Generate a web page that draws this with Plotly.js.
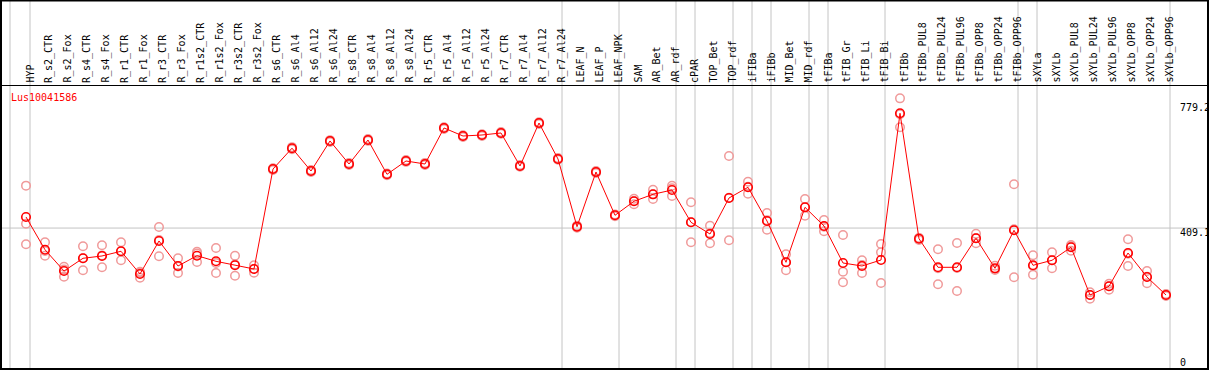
<!DOCTYPE html>
<html>
<head>
<meta charset="utf-8">
<script src="https://cdn.plot.ly/plotly-3.0.1.min.js"></script>
<style>html,body{margin:0;padding:0;background:#fff;}#chart{width:1209px;height:370px;}</style>
</head>
<body>
<div id="chart"></div>
<script>
const categories = ["HYP","R_s2_CTR","R_s2_Fox","R_s4_CTR","R_s4_Fox","R_r1_CTR","R_r1_Fox","R_r3_CTR","R_r3_Fox","R_r1s2_CTR","R_r1s2_Fox","R_r3s2_CTR","R_r3s2_Fox","R_s6_CTR","R_s6_Al4","R_s6_Al12","R_s6_Al24","R_s8_CTR","R_s8_Al4","R_s8_Al12","R_s8_Al24","R_r5_CTR","R_r5_Al4","R_r5_Al12","R_r5_Al24","R_r7_CTR","R_r7_Al4","R_r7_Al12","R_r7_Al24","LEAF_N","LEAF_P","LEAF_NPK","SAM","AR_Bet","AR_rdf","cPAR","TOP_Bet","TOP_rdf","iFIBa","iFIBb","MID_Bet","MID_rdf","tFIBa","tFIB_Gr","tFIB_Li","tFIB_Bi","tFIBb","tFIBb_PUL8","tFIBb_PUL24","tFIBb_PUL96","tFIBb_OPP8","tFIBb_OPP24","tFIBb_OPP96","sXYLa","sXYLb","sXYLb_PUL8","sXYLb_PUL24","sXYLb_PUL96","sXYLb_OPP8","sXYLb_OPP24","sXYLb_OPP96"];

const meanValues = [440.7,347.3,286.5,322.8,329.4,342.8,278.0,372.2,300.8,330.2,314.2,302.8,292.2,577.6,637.0,571.9,657.6,591.9,660.4,562.5,600.5,591.9,694.7,671.8,674.7,680.4,586.2,708.9,606.2,413.0,569.1,445.5,485.5,505.4,517.7,425.5,392.1,494.9,525.4,429.2,311.4,468.3,415.0,309.4,300.8,317.9,736.6,378.7,297.1,297.1,379.9,294.2,402.7,302.8,317.1,354.2,218.0,242.9,337.9,269.4,218.0];

const rep1 = [530.1,368.5,298.8,357.0,359.9,368.5,284.5,412.1,322.8,341.6,352.2,330.2,302.8,580.0,640.0,575.0,660.0,595.0,663.0,565.0,603.0,595.0,697.0,674.0,677.0,683.0,589.0,711.0,609.0,416.0,572.0,448.0,492.9,518.6,530.0,482.6,415.8,614.8,541.4,452.1,334.2,492.0,432.1,389.3,317.1,363.6,779.2,381.0,348.5,366.5,393.0,301.7,534.0,331.4,339.9,360.7,225.8,250.3,377.0,286.5,221.0];
const rep2 = [421.6,330.2,270.3,288.5,297.1,317.1,267.4,328.5,280.8,312.2,280.8,273.1,281.7,575.0,634.0,569.0,655.0,589.0,658.0,560.0,598.0,589.0,692.0,669.0,672.0,678.0,584.0,706.0,604.0,410.0,566.0,443.0,476.9,492.0,500.6,368.5,365.6,374.2,507.2,404.4,288.5,444.4,399.8,284.5,280.8,339.9,696.7,375.0,248.6,229.5,365.6,289.4,268.6,276.0,294.2,344.5,207.5,233.2,300.8,251.4,215.0];
const rep3 = [362.8,343.6,290.5,322.8,331.1,342.8,281.7,375.0,299.4,336.8,309.4,305.1,292.2,578.0,637.0,572.0,658.0,592.0,660.0,562.0,601.0,592.0,695.0,672.0,675.0,680.0,586.0,709.0,606.0,413.0,569.0,446.0,486.3,505.4,522.6,425.5,395.0,495.7,527.1,431.2,311.4,468.3,413.0,254.3,303.7,252.3,733.7,380.0,294.2,295.1,380.7,292.2,405.6,300.8,317.1,357.0,218.0,242.9,335.9,270.3,218.0];

const groupEnds = [0,28,31,34,35,37,38,39,41,42,45,52,53,60];
const geneId = "Lus10041586";
const yTickValues = ["779.2","409.1","0"];
const refLineValue = 409.1;

const W = 1209, H = 370, T = 86, B = 2;
const plotH = H - T - B;
const py = p => (H - B - p) / plotH;   // pixel row -> paper y
const pxX = p => p / W;                // pixel col -> paper x
const MONO = 'DejaVu Sans Mono';

const repX = categories.concat(categories, categories);
const repY = rep1.concat(rep2, rep3);

const traces = [
  {
    x: repX, y: repY, type: 'scatter', mode: 'markers', cliponaxis: false,
    marker: {symbol: 'circle-open', size: 8.5, color: '#f09a9a', line: {width: 1.5, color: '#f09a9a'}},
    hoverinfo: 'skip', showlegend: false
  },
  {
    x: categories, y: meanValues, type: 'scatter', mode: 'lines+markers', cliponaxis: false,
    line: {color: '#ff0000', width: 1},
    marker: {symbol: 'circle-open', size: 8.5, color: '#ff0000', line: {width: 1.6, color: '#ff0000'}},
    showlegend: false
  }
];

const shapes = [];
const sepPositions = [-0.842].concat(groupEnds.map(i => i + 4/19));
sepPositions.forEach(xv => shapes.push({
  type: 'line', xref: 'x', yref: 'paper', x0: xv, x1: xv, y0: py(370), y1: py(0),
  line: {color: '#c4c4c4', width: 1}, layer: 'below'
}));
shapes.push({type: 'line', xref: 'paper', yref: 'y', x0: 0, x1: 1, y0: refLineValue, y1: refLineValue,
  line: {color: '#c4c4c4', width: 1}, layer: 'below'});
shapes.push({type: 'line', xref: 'paper', yref: 'paper', x0: 0, x1: 1, y0: py(85.5), y1: py(85.5),
  line: {color: '#000', width: 1}});
shapes.push({type: 'rect', xref: 'paper', yref: 'paper', x0: pxX(1), x1: pxX(1208), y0: py(369), y1: py(0.5),
  line: {color: '#000', width: 2}});

const annotations = [
  {text: geneId, xref: 'paper', yref: 'paper', x: pxX(9), y: py(97), xanchor: 'left', yanchor: 'middle',
   showarrow: false, font: {family: MONO, size: 10, color: '#ff0000'}},
  {text: yTickValues[0], xref: 'paper', yref: 'paper', x: pxX(1178), y: py(107), xanchor: 'left', yanchor: 'middle',
   showarrow: false, font: {family: MONO, size: 10, color: '#000'}},
  {text: yTickValues[1], xref: 'paper', yref: 'paper', x: pxX(1178), y: py(232), xanchor: 'left', yanchor: 'middle',
   showarrow: false, font: {family: MONO, size: 10, color: '#000'}},
  {text: yTickValues[2], xref: 'paper', yref: 'paper', x: pxX(1178), y: py(362), xanchor: 'left', yanchor: 'middle',
   showarrow: false, font: {family: MONO, size: 10, color: '#000'}}
];
categories.forEach((c, i) => annotations.push({
  text: c, xref: 'x', yref: 'paper', x: i, y: py(84), xanchor: 'center', yanchor: 'bottom',
  textangle: -90, showarrow: false, borderpad: 0, xshift: 3.5,
  font: {family: MONO, size: 10, color: '#000'}
}));

const layout = {
  width: W, height: H,
  margin: {l: 0, r: 0, t: T, b: B, pad: 0},
  paper_bgcolor: '#fff', plot_bgcolor: '#fff',
  showlegend: false,
  xaxis: {
    type: 'category', categoryorder: 'array', categoryarray: categories,
    range: [-26/19, (W - 26)/19],
    showgrid: false, zeroline: false, showline: false, ticks: '', showticklabels: false,
    fixedrange: true
  },
  yaxis: {
    range: [9.7, 814.5], showgrid: false, zeroline: false, showline: false,
    showticklabels: false, ticks: '', fixedrange: true
  },
  shapes: shapes,
  annotations: annotations
};

Plotly.newPlot('chart', traces, layout, {staticPlot: true, displayModeBar: false});
</script>
</body>
</html>
